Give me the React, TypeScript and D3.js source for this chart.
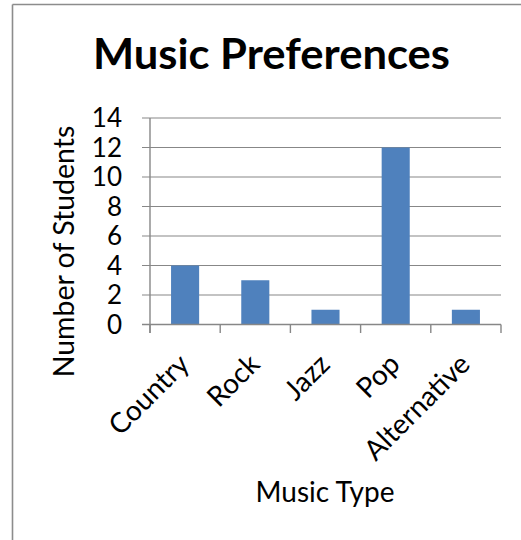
import React from "react";
import * as d3 from "d3";

const categories = ["Country", "Rock", "Jazz", "Pop", "Alternative"];
const values = [4, 3, 1, 12, 1];
const yTicks = [0, 2, 4, 6, 8, 10, 12, 14];
const title = "Music Preferences";
const xTitle = "Music Type";
const yTitle = "Number of Students";

const W = 521;
const H = 540;
const FONT = "Lato, 'DejaVu Sans', sans-serif";
const GRID = "#878787";

export default function App() {
  const x = d3
    .scaleBand<string>()
    .domain(categories)
    .range([150, 501])
    .paddingInner(0.6)
    .paddingOuter(0.3);
  const y = d3.scaleLinear().domain([0, 14]).range([324.5, 118]);
  const step = x.step();
  const x0 = 150;
  const x1 = 501;
  const tickEdges = categories.map((_, i) => x0 + i * step).concat([x1]);

  return (
    <svg
      width={W}
      height={H}
      style={{ position: "absolute", left: 0, top: 0, background: "#fff" }}
    >
      <rect x={0} y={0} width={W} height={H} fill="#fff" />
      {/* outer frame */}
      <line x1={12.5} y1={4.5} x2={W} y2={4.5} stroke="#8c8c8c" strokeWidth={1.6} />
      <line x1={12.5} y1={4.5} x2={12.5} y2={H} stroke="#8c8c8c" strokeWidth={1.6} />

      <text
        x={271.5}
        y={69}
        textAnchor="middle"
        fontFamily="Lato, 'Open Sans', sans-serif"
        fontWeight="bold"
        fontSize={42}
        textLength={357}
        lengthAdjust="spacingAndGlyphs"
        fill="#000"
      >
        {title}
      </text>

      {/* gridlines */}
      {yTicks.map((t) => (
        <line
          key={"g" + t}
          x1={142}
          x2={x1}
          y1={y(t)}
          y2={y(t)}
          stroke={GRID}
          strokeWidth={1.2}
        />
      ))}

      {/* bars */}
      {categories.map((c, i) => (
        <rect
          key={c}
          x={x(c)}
          y={y(values[i])}
          width={x.bandwidth()}
          height={y(0) - y(values[i])}
          fill="#4F81BD"
        />
      ))}

      {/* axes */}
      <line x1={150} x2={150} y1={y(14)} y2={333} stroke={GRID} strokeWidth={1.4} />
      <line x1={142} x2={x1} y1={y(0)} y2={y(0)} stroke={GRID} strokeWidth={1.4} />
      {tickEdges.map((tx, i) => (
        <line
          key={"xt" + i}
          x1={tx}
          x2={tx}
          y1={y(0)}
          y2={333}
          stroke={GRID}
          strokeWidth={1.4}
        />
      ))}

      {/* y tick labels */}
      {yTicks.map((t) => (
        <text
          key={"yl" + t}
          x={122}
          y={y(t)}
          dy="0.36em"
          textAnchor="end"
          fontFamily={FONT}
          fontSize={26}
          fill="#000"
        >
          {t}
        </text>
      ))}

      {/* x tick labels */}
      {categories.map((c) => {
        const cx = (x(c) as number) + x.bandwidth() / 2 - 1;
        const cy = 359;
        return (
          <text
            key={"xl" + c}
            x={cx}
            y={cy}
            dy="0.35em"
            textAnchor="end"
            transform={`rotate(-45 ${cx} ${cy})`}
            fontFamily={FONT}
            fontSize={28}
            fill="#000"
          >
            {c}
          </text>
        );
      })}

      <text
        x={325}
        y={501.5}
        textAnchor="middle"
        fontFamily={FONT}
        fontSize={28}
        fill="#000"
      >
        {xTitle}
      </text>

      <text
        x={74}
        y={251.5}
        textAnchor="middle"
        transform={`rotate(-90 74 251.5)`}
        fontFamily={FONT}
        fontSize={28.5}
        fill="#000"
      >
        {yTitle}
      </text>
    </svg>
  );
}
